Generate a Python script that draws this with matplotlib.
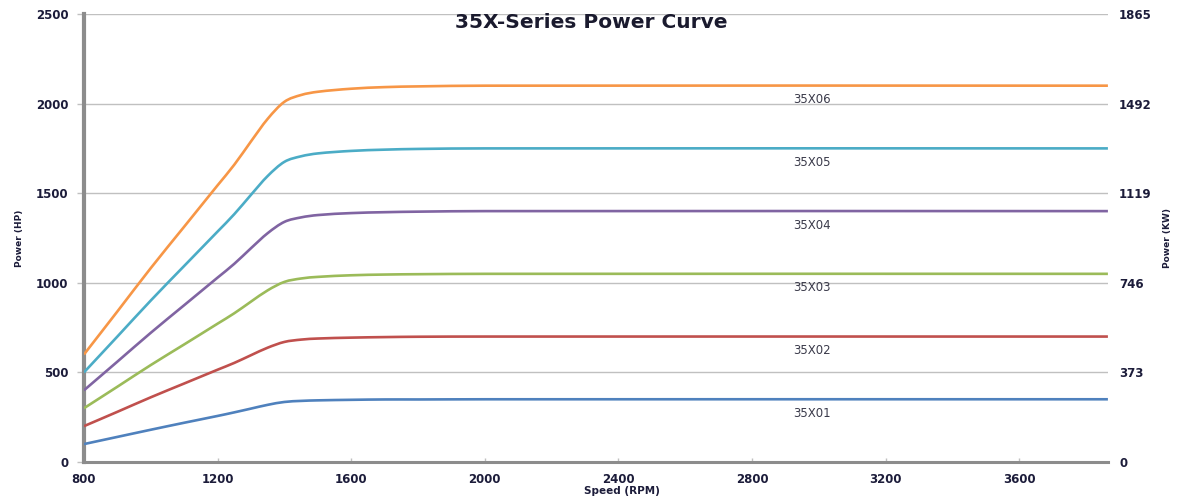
import matplotlib
matplotlib.use("Agg")
import matplotlib.pyplot as plt
from matplotlib.path import Path
from matplotlib.patches import PathPatch

# speed (RPM) sample points
speed = [800, 900, 1000, 1100, 1200, 1250, 1300, 1350, 1400, 1450, 1500, 1600, 1700, 1800, 2000, 3865]

# power (HP) for each model
p_35x01 = [100, 140, 180, 219, 257, 277, 298, 319, 335, 341, 344, 347, 349, 349, 350, 350]
p_35x02 = [200, 280, 361, 438, 515, 553, 596, 638, 670, 683, 689, 694, 697, 699, 700, 700]
p_35x03 = [300, 420, 541, 656, 772, 830, 895, 958, 1005, 1024, 1033, 1042, 1046, 1048, 1050, 1050]
p_35x04 = [400, 560, 721, 875, 1029, 1106, 1193, 1277, 1340, 1365, 1378, 1389, 1394, 1397, 1400, 1400]
p_35x05 = [500, 700, 901, 1094, 1286, 1383, 1491, 1596, 1675, 1706, 1722, 1736, 1743, 1747, 1750, 1750]
p_35x06 = [600, 840, 1082, 1313, 1544, 1659, 1789, 1915, 2010, 2048, 2066, 2083, 2092, 2096, 2100, 2100]

names = ["35X01", "35X02", "35X03", "35X04", "35X05", "35X06"]
series = [p_35x01, p_35x02, p_35x03, p_35x04, p_35x05, p_35x06]
colors = ["#4F81BD", "#C0504D", "#9BBB59", "#8064A2", "#4BACC6", "#F79646"]

hp_ticks = [0, 500, 1000, 1500, 2000, 2500]
kw_ticks = [0, 373, 746, 1119, 1492, 1865]
x_ticks = [800, 1200, 1600, 2000, 2400, 2800, 3200, 3600]


def smooth_line(x, y):
    # Excel-style smoothed line: cubic bezier segments through the data points
    n = len(x)
    m = []
    for i in range(n):
        a = max(i - 1, 0)
        b = min(i + 1, n - 1)
        m.append((y[b] - y[a]) / (x[b] - x[a]))
    verts = [(x[0], y[0])]
    codes = [Path.MOVETO]
    for i in range(n - 1):
        h = (x[i + 1] - x[i]) / 3.0
        verts += [(x[i] + h, y[i] + m[i] * h),
                  (x[i + 1] - h, y[i + 1] - m[i + 1] * h),
                  (x[i + 1], y[i + 1])]
        codes += [Path.CURVE4] * 3
    return Path(verts, codes)


plt.rcParams['font.family'] = ['DejaVu Sans']
txt = "#1c1c3a"

fig = plt.figure(figsize=(11.79, 5.0), dpi=100)
ax = fig.add_axes([0.0712, 0.076, 0.8685, 0.896])

for vals, c in zip(series, colors):
    ax.add_patch(PathPatch(smooth_line(speed, vals), facecolor='none', edgecolor=c,
                           lw=1.9, capstyle='butt', zorder=3))

# series labels just under the flat part of each curve
for name, vals in zip(names, series):
    ax.annotate(name, xy=(2980, vals[-1]), xytext=(0, -10), textcoords='offset points',
                ha='center', va='center', fontsize=8.5, color="#3a3a4a")

ax.set_xlim(800, 3865)
ax.set_ylim(0, 2500)
ax.set_xticks(x_ticks)
ax.set_yticks(hp_ticks)
ax.grid(axis='y', color="#c0c0c0", lw=1.0, zorder=0)
ax.set_axisbelow(True)

for s in ['top', 'right']:
    ax.spines[s].set_visible(False)
ax.spines['left'].set_color("#8c8c8c")
ax.spines['left'].set_linewidth(3.0)
ax.spines['bottom'].set_color("#8c8c8c")
ax.spines['bottom'].set_linewidth(2.2)
ax.tick_params(axis='y', length=5, width=1, color="#c0c0c0", pad=6,
               labelsize=8.5, labelcolor=txt)
ax.tick_params(axis='x', length=3, width=1, color="#c0c0c0", direction='in', pad=8,
               labelsize=8.5, labelcolor=txt)
for lab in ax.get_xticklabels() + ax.get_yticklabels():
    lab.set_fontweight('bold')

ax.set_xlabel("Speed (RPM)", fontsize=7.5, fontweight='bold', color=txt, labelpad=0)
ax.xaxis.label.set_x(0.525)
ax.set_ylabel("Power (HP)", fontsize=6.5, fontweight='bold', color=txt, labelpad=9)

ax2 = ax.twinx()
ax2.set_ylim(0, 1865)
ax2.set_yticks(kw_ticks)
for s in ['top', 'left', 'bottom', 'right']:
    ax2.spines[s].set_visible(False)
ax2.tick_params(axis='y', length=0, pad=8, labelsize=8.5, labelcolor=txt)
for lab in ax2.get_yticklabels():
    lab.set_fontweight('bold')
ax2.set_ylabel("Power (KW)", fontsize=6.5, fontweight='bold', color=txt, labelpad=8)

ax.text(0.495, 0.982, "35X-Series Power Curve", transform=ax.transAxes,
        ha='center', va='center', fontsize=14.5, fontweight='bold', color="#1a1a2e")

fig.savefig("out.png", dpi=100)
